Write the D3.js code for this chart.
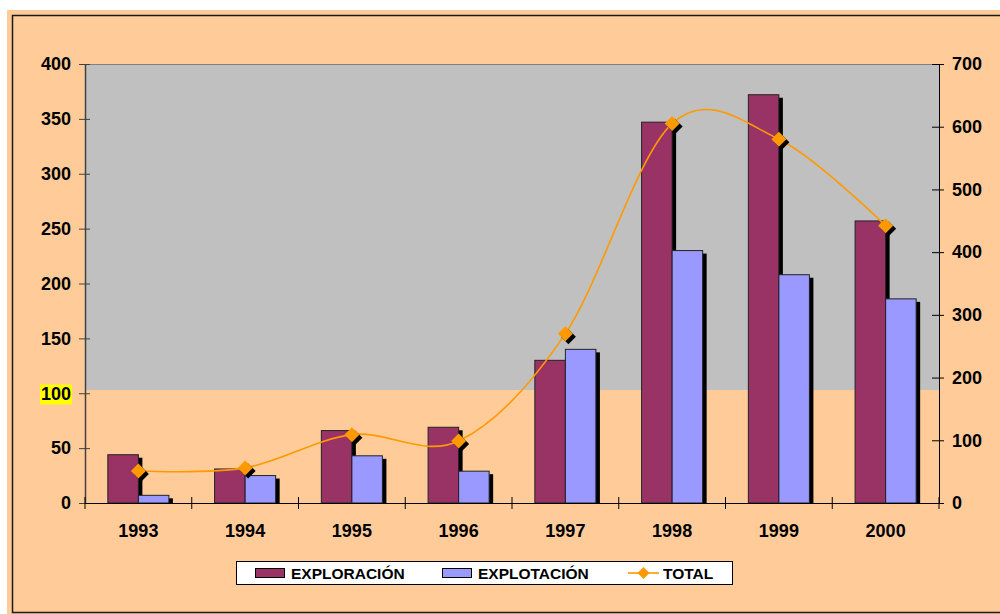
<!DOCTYPE html>
<html>
<head>
<meta charset="utf-8">
<script src="https://cdn.jsdelivr.net/npm/d3@7"></script>
<style>
  html, body { margin: 0; padding: 0; background: #ffffff; }
  svg { display: block; }
  text { font-family: "Liberation Sans", Arial, sans-serif; font-weight: bold; fill: #000; }
</style>
</head>
<body>
<svg id="chart" width="1000" height="614"></svg>
<script>
// Annual values per activity (left axis) and the total (right axis)
const years = ["1993", "1994", "1995", "1996", "1997", "1998", "1999", "2000"];
const exploracion = [44, 31, 66, 69, 130, 347, 372, 257];
const explotacion = [7, 25, 43, 29, 140, 230, 208, 186];
const total = [51, 56, 109, 99, 270, 605, 580, 442];

const leftTicks = [0, 50, 100, 150, 200, 250, 300, 350, 400];
const rightTicks = [0, 100, 200, 300, 400, 500, 600, 700];
const highlightedTick = 100;
const grayLimit = 103; // plot-area gray fill reaches down to this left-axis value

const seriesNames = ["EXPLORACIÓN", "EXPLOTACIÓN", "TOTAL"];
const colors = { exploracion: "#993366", explotacion: "#9999FF", total: "#FF9900" };

const svg = d3.select("#chart");
const W = 1000, H = 614;
const plot = { left: 85, right: 939, top: 64, bottom: 503 };

// Background panel and frame
svg.append("rect").attr("x", 7).attr("y", 10).attr("width", W - 7).attr("height", H - 10).attr("fill", "#FFCC99");
svg.append("rect").attr("x", 12.5).attr("y", 15.5).attr("width", 1000).attr("height", 597)
  .attr("fill", "none").attr("stroke", "#1a1a1a").attr("stroke-width", 1.5);

// Scales
const x = d3.scaleBand().domain(years).range([plot.left, plot.right]).padding(0);
const yL = d3.scaleLinear().domain([0, 400]).range([plot.bottom, plot.top]);
const yR = d3.scaleLinear().domain([0, 700]).range([plot.bottom, plot.top]);

// Gray plot area
svg.append("rect")
  .attr("x", plot.left).attr("y", yL(400))
  .attr("width", plot.right - plot.left).attr("height", yL(grayLimit) - yL(400))
  .attr("fill", "#C0C0C0");
svg.append("line")
  .attr("x1", plot.left).attr("x2", plot.right).attr("y1", yL(400) + 0.5).attr("y2", yL(400) + 0.5)
  .attr("stroke", "#808080").attr("stroke-width", 1);

// Bars (two per year) with a dark drop shadow
const bw = x.bandwidth();
const inset = bw * 0.214;
const barW = (bw - 2 * inset) / 2;
const shadowDx = 4, shadowDy = 3;

function drawBars(values, offsetIndex, color) {
  const g = svg.append("g");
  g.selectAll("rect.shadow").data(values).join("rect")
    .attr("class", "shadow")
    .attr("x", (d, i) => x(years[i]) + inset + offsetIndex * barW + shadowDx)
    .attr("y", d => yL(d) + shadowDy)
    .attr("width", barW)
    .attr("height", d => Math.max(0, yL(0) - yL(d) - shadowDy))
    .attr("fill", "#000");
  g.selectAll("rect.bar").data(values).join("rect")
    .attr("class", "bar")
    .attr("x", (d, i) => x(years[i]) + inset + offsetIndex * barW)
    .attr("y", d => yL(d))
    .attr("width", barW)
    .attr("height", d => yL(0) - yL(d))
    .attr("fill", color)
    .attr("stroke", "#222")
    .attr("stroke-width", 1);
}
// Shadows of the second series are drawn after the first bars so each bar's shadow overlaps its neighbour
drawBars(exploracion, 0, colors.exploracion);
drawBars(explotacion, 1, colors.explotacion);

// Left axis
const axisL = svg.append("g").attr("transform", `translate(${plot.left},0)`)
  .call(d3.axisLeft(yL).tickValues(leftTicks).tickSizeInner(6).tickSizeOuter(0).tickPadding(8));
axisL.select(".domain").attr("stroke", "#404040").attr("stroke-width", 1.5);
axisL.selectAll(".tick line").attr("stroke", "#404040").attr("x2", 5).attr("x1", -6);
axisL.selectAll(".tick text").attr("font-size", 18).attr("font-family", "Liberation Sans, Arial, sans-serif")
  .attr("font-weight", "bold").attr("fill", "#000").attr("x", -14);
// Yellow highlight behind the "100" label
axisL.selectAll(".tick").filter(d => d === highlightedTick).each(function () {
  const t = d3.select(this).select("text");
  const bb = t.node().getBBox();
  d3.select(this).insert("rect", "text")
    .attr("x", bb.x - 1).attr("y", bb.y + 1).attr("width", bb.width + 2).attr("height", bb.height)
    .attr("fill", "#FFFF00");
});

// Right axis
const axisR = svg.append("g").attr("transform", `translate(${plot.right},0)`)
  .call(d3.axisRight(yR).tickValues(rightTicks).tickSizeInner(5).tickSizeOuter(0).tickPadding(8));
axisR.select(".domain").attr("stroke", "#000").attr("stroke-width", 1);
axisR.selectAll(".tick line").attr("stroke", "#000").attr("x1", -7).attr("x2", 5);
axisR.selectAll(".tick text").attr("font-size", 18).attr("font-family", "Liberation Sans, Arial, sans-serif")
  .attr("font-weight", "bold").attr("fill", "#000").attr("x", 13);

// Category axis: ticks sit between years, crossing the baseline
const axisX = svg.append("g").attr("transform", `translate(0,${plot.bottom})`);
axisX.append("line").attr("x1", plot.left).attr("x2", plot.right).attr("y1", 0.5).attr("y2", 0.5)
  .attr("stroke", "#000").attr("stroke-width", 1);
const boundaries = years.map(y => x(y)).concat([plot.right]);
axisX.selectAll("line.tick").data(boundaries).join("line").attr("class", "tick")
  .attr("x1", d => d).attr("x2", d => d).attr("y1", -6).attr("y2", 6)
  .attr("stroke", "#000").attr("stroke-width", 1);
axisX.selectAll("text").data(years).join("text")
  .attr("x", d => x(d) + bw / 2).attr("y", 34)
  .attr("text-anchor", "middle").attr("font-size", 18)
  .text(d => d);

// Total line (smoothed) with diamond markers on the right axis
const cx = i => x(years[i]) + bw / 2;
const line = d3.line().x((d, i) => cx(i)).y(d => yR(d)).curve(d3.curveCardinal.tension(0));
svg.append("path").datum(total).attr("d", line)
  .attr("fill", "none").attr("stroke", colors.total).attr("stroke-width", 1.6);

const diamond = r => `M0,${-r}L${r},0L0,${r}L${-r},0Z`;
const markers = svg.append("g");
markers.selectAll("path.shadow").data(total).join("path").attr("class", "shadow")
  .attr("d", diamond(7.5))
  .attr("transform", (d, i) => `translate(${cx(i) + 3},${yR(d) + 3})`)
  .attr("fill", "#000");
markers.selectAll("path.mark").data(total).join("path").attr("class", "mark")
  .attr("d", diamond(7.5))
  .attr("transform", (d, i) => `translate(${cx(i)},${yR(d)})`)
  .attr("fill", colors.total);

// Legend
const lg = svg.append("g");
lg.append("rect").attr("x", 236.5).attr("y", 561.5).attr("width", 496).attr("height", 23)
  .attr("fill", "#fff").attr("stroke", "#000").attr("stroke-width", 1);
lg.append("rect").attr("x", 255.5).attr("y", 568.5).attr("width", 29).attr("height", 9)
  .attr("fill", colors.exploracion).attr("stroke", "#000").attr("stroke-width", 1);
lg.append("text").attr("x", 291).attr("y", 579).attr("font-size", 15.5).text(seriesNames[0]);
lg.append("rect").attr("x", 442.5).attr("y", 568.5).attr("width", 29).attr("height", 9)
  .attr("fill", colors.explotacion).attr("stroke", "#000").attr("stroke-width", 1);
lg.append("text").attr("x", 478).attr("y", 579).attr("font-size", 15.5).text(seriesNames[1]);
lg.append("line").attr("x1", 628).attr("x2", 659).attr("y1", 573).attr("y2", 573)
  .attr("stroke", colors.total).attr("stroke-width", 1.6);
lg.append("path").attr("d", diamond(6)).attr("transform", "translate(643.5,573)").attr("fill", colors.total);
lg.append("text").attr("x", 663).attr("y", 579).attr("font-size", 15.5).text(seriesNames[2]);
</script>
</body>
</html>
